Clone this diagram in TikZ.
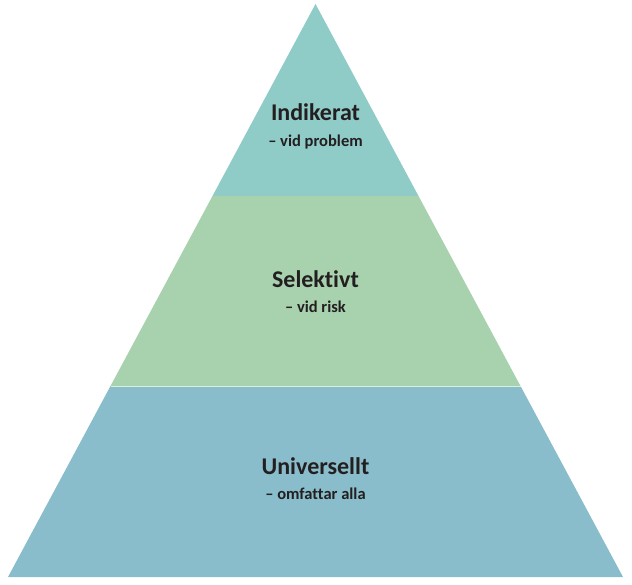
\documentclass[tikz,border=0pt]{standalone}
\usepackage{fontspec}
\setmainfont{Carlito}[Ligatures={NoCommon,NoRare}]
\definecolor{topc}{HTML}{8FCBC7}
\definecolor{midc}{HTML}{A8D1AE}
\definecolor{botc}{HTML}{89BDCB}
\definecolor{txt}{HTML}{231F20}
\begin{document}
\begin{tikzpicture}[x=1pt,y=-1pt,
  title/.style={font=\bfseries\fontsize{24}{28}\selectfont, text=txt, inner sep=0pt, anchor=base},
  sub/.style={font=\bfseries\fontsize{16.5}{19}\selectfont, text=txt, inner sep=0pt, anchor=base}]
\useasboundingbox (0,0) rectangle (632,585);
\coordinate (A) at (315.5,4);
\coordinate (T1) at (212.5,196);
\coordinate (T2) at (418.5,196);
\coordinate (M1) at (110.5,386);
\coordinate (M2) at (520.5,386);
\coordinate (BL) at (8,577);
\coordinate (BR) at (623,577);
\fill[topc] (A) -- (T2) -- (T1) -- cycle;
\fill[midc] (T1) -- (T2) -- (M2) -- (M1) -- cycle;
\fill[botc] (M1) -- (M2) -- (BR) -- (BL) -- cycle;
\draw[white!60!midc, line width=0.5pt] (M1) -- (M2);
\node[title] (t1) at (315.5,121) {Indikerat};
\node[sub] (s1) at (315.5,147) {– vid problem};
\node[title] (t2) at (315.5,288) {Selektivt};
\node[sub] (s2) at (315.5,313) {– vid risk};
\node[title] (t3) at (315.5,474) {Universellt};
\node[sub] (s3) at (315.5,499) {– omfattar alla};
\end{tikzpicture}
\end{document}
